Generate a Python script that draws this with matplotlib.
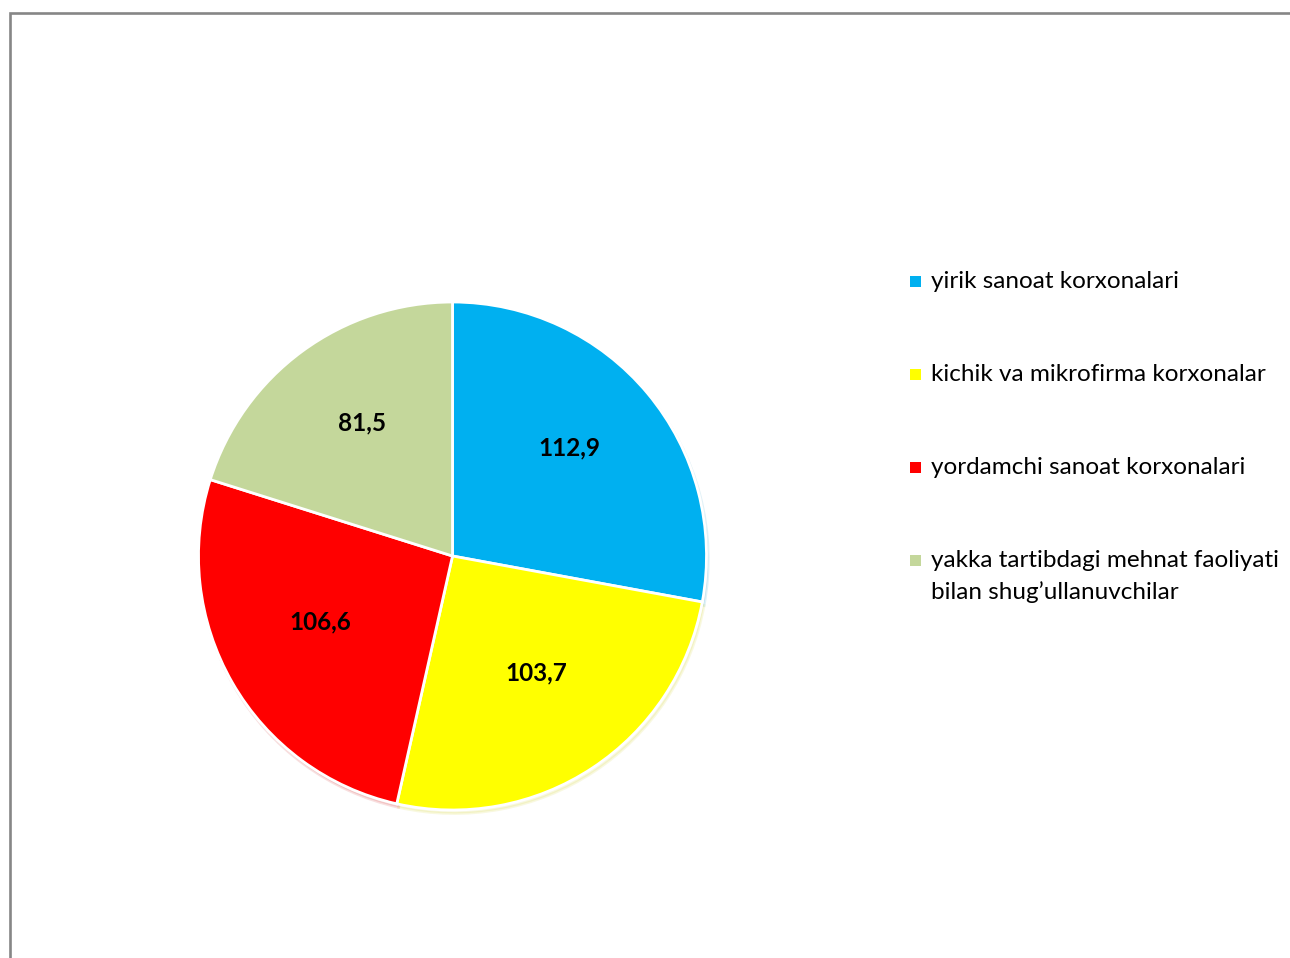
import matplotlib.pyplot as plt
from matplotlib.patches import Rectangle
import numpy as np

plt.rcParams['font.family'] = ['Lato', 'DejaVu Sans']

labels = ['yirik sanoat korxonalari',
          'kichik va mikrofirma korxonalar',
          'yordamchi sanoat korxonalari',
          'yakka tartibdagi mehnat faoliyati\nbilan shug\u2019ullanuvchilar']
values = [112.9, 103.7, 106.6, 81.5]
colors = ['#00B0F0', '#FFFF00', '#FF0000', '#C4D79B']

W, H = 1290, 958
fig = plt.figure(figsize=(W / 100, H / 100), dpi=100)

def fx(x):
    return x / W

def fy(y):
    return 1 - y / H

# frame of the chart area (only left and top visible)
fig.add_artist(Rectangle((fx(9.5), -0.2), 1.5, fy(13.5) + 0.2, transform=fig.transFigure,
                         fill=False, edgecolor='#868686', linewidth=1.9))

# pie axes
cx, cy, r = 452.5, 556, 254
ax = fig.add_axes([fx(cx - r), fy(cy + r), 2 * r / W, 2 * r / H])
wedges, _ = ax.pie(values, colors=colors, startangle=90, counterclock=False,
                   wedgeprops=dict(edgecolor='white', linewidth=2),
                   shadow=dict(ox=0.005, oy=-0.01, alpha=0.12, shade=0.2))
ax.set_xlim(-1, 1)
ax.set_ylim(-1, 1)
ax.set_aspect('equal')
ax.axis('off')

for w, v in zip(wedges, values):
    ang = np.deg2rad((w.theta1 + w.theta2) / 2)
    ax.text(0.6 * np.cos(ang), 0.6 * np.sin(ang) + 0.04, f'{v:.1f}'.replace('.', ','),
            ha='center', va='center', fontsize=17.5, fontweight='bold', color='black')

# legend
ly0, lstep = 281, 93
for i, (lab, col) in enumerate(zip(labels, colors)):
    y = ly0 + i * lstep
    fig.add_artist(Rectangle((fx(910), fy(y + 5.5)), 11 / W, 11 / H,
                             transform=fig.transFigure, facecolor=col, edgecolor='none'))
    fig.text(fx(931), fy(y - 10), lab, ha='left', va='top', fontsize=17.5,
             linespacing=1.55, color='black')

fig.savefig('out.png', dpi=100, facecolor='white')
